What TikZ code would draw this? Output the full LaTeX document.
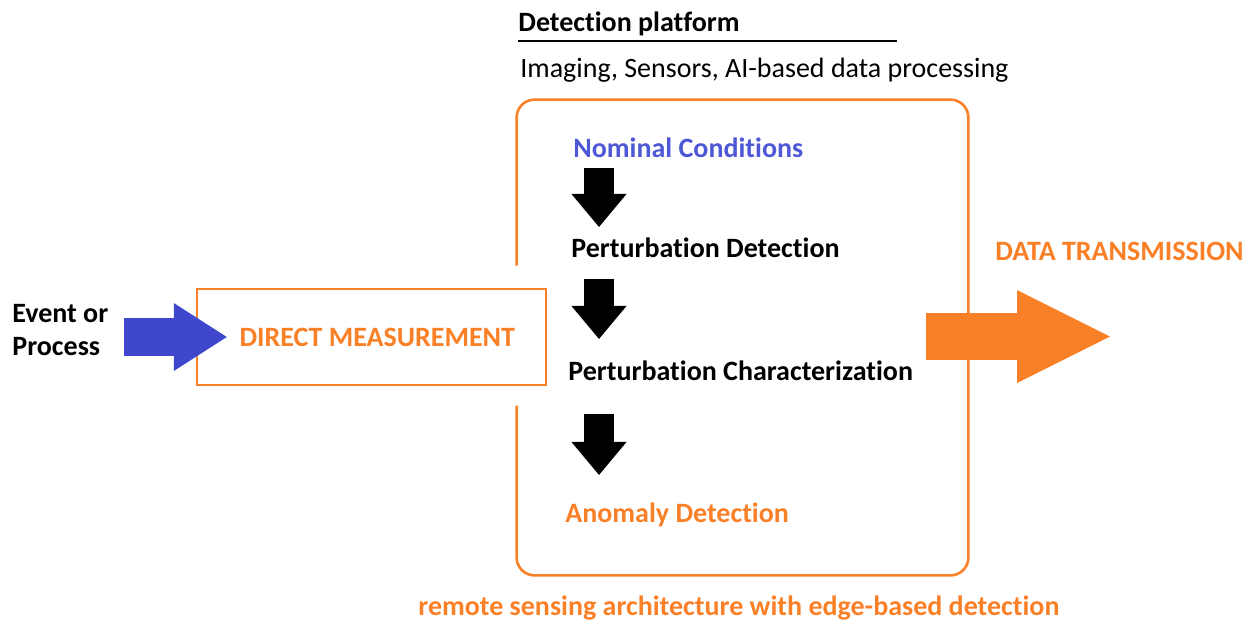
\documentclass[tikz,border=0pt]{standalone}
\usepackage{fontspec}
\setmainfont{Carlito}[Ligatures={NoCommon}]
\usetikzlibrary{arrows.meta}
\definecolor{orng}{RGB}{250,128,40}
\definecolor{blu}{RGB}{63,72,204}
\definecolor{blutext}{RGB}{78,88,214}

\begin{document}
\begin{tikzpicture}
      [x=0.5pt, y=-0.5pt,
      lbl/.style={inner sep=0pt, anchor=base west, font=\fontsize{14}{16.5}\selectfont\bfseries},
      plain/.style={inner sep=0pt, anchor=base west, font=\fontsize{14}{16.5}\selectfont},
      mbox/.style={draw=orng, line width=1.2pt, text=orng, inner sep=0pt,
        minimum width=174.5pt, minimum height=48pt, font=\fontsize{14}{16.5}\selectfont\bfseries},
      frameline/.style={draw=orng, line width=1.3pt, rounded corners=9pt},
      downarr/.style={line width=15pt, -{Triangle[length=16.5pt, width=27.5pt, line width=0pt]}},
      bluearr/.style={blu, line width=19pt, -{Triangle[length=26.5pt, width=34pt, line width=0pt]}},
      orarr/.style={orng, line width=23.5pt, -{Triangle[length=46.5pt, width=46.5pt, line width=0pt]}}]
      \useasboundingbox (0,0) rectangle (1253,622);
      % heading
      \node (title) at (518,31) [lbl] {Detection platform};
      \draw[line width=1.2pt] ([yshift=-5pt]title.base west) -- ++(189.5pt,0);
      \node (tools) at (520,77) [plain] {Imaging, Sensors, AI-based data processing};
      % platform frame, open on the left where the measurement box sits
      \node (frame) at (742.5,337.5) [minimum width=225.5pt, minimum height=237.5pt, inner sep=0pt] {};
      \draw[frameline] ([yshift=36pt]frame.west) -- (frame.north west) -- (frame.north east)
        -- (frame.south east) -- (frame.south west) -- ([yshift=-34pt]frame.west);
      % steps
      \coordinate (col) at (599,0);
      \node (nc) at (573,157) [lbl, text=blutext] {Nominal Conditions};
      \node (pd) at (571,257) [lbl] {Perturbation Detection};
      \node (pc) at (568,380) [lbl] {Perturbation Characterization};
      \node (ad) at (565,522) [lbl, text=orng] {Anomaly Detection};
      \draw[downarr, shorten <=5pt, shorten >=5pt] (nc.south -| col) -- (pd.north -| col);
      \draw[downarr, shorten <=10.5pt, shorten >=10.5pt] (pd.south -| col) -- (pc.north -| col);
      \draw[downarr, shorten <=16.5pt, shorten >=13.5pt] (pc.south -| col) -- (ad.north -| col);
      % input side
      \node (event) at (12,330) [lbl, anchor=west, align=left] {Event or\\Process};
      \node (dm) at (371.5,337) [mbox, text width=143.5pt, align=flush right] {DIRECT MEASUREMENT};
      \draw[bluearr, shorten <=7.5pt, shorten >=-15.5pt] (event.east |- dm.center) -- (dm.west);
      % output side
      \node (dt) at (995,260) [lbl, text=orng] {DATA TRANSMISSION};
      \coordinate (txend) at (1110,336.5);
      \draw[orarr, shorten <=-21pt] (frame.east |- txend) -- (txend);
      \node (caption) at (418,615) [lbl, text=orng] {remote sensing architecture with edge-based detection};
    \end{tikzpicture}
\end{document}
